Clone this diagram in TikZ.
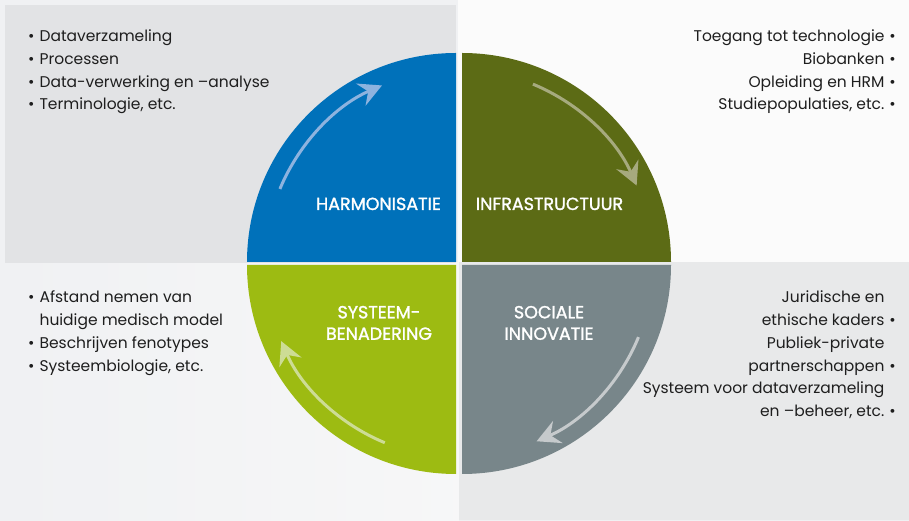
\documentclass[tikz,border=0pt]{standalone}
\usepackage{fontspec}
\setmainfont{Poppins}
\newfontfamily\labelfont[FakeBold=1.5]{Poppins}
\usetikzlibrary{arrows.meta}

\definecolor{pagebg}{HTML}{F0F1F3}
\definecolor{panelA}{HTML}{E2E3E5}
\definecolor{panelB}{HTML}{FBFBFB}
\definecolor{panelD}{HTML}{E8E9EA}
\definecolor{harmblue}{HTML}{0071BA}
\definecolor{infraolive}{HTML}{5C6B15}
\definecolor{systgreen}{HTML}{9DBB12}
\definecolor{socgray}{HTML}{78868A}
\definecolor{arrblue}{HTML}{8DB3DF}
\definecolor{arrolive}{HTML}{A6AA7E}
\definecolor{arrgreen}{HTML}{CDDC95}
\definecolor{arrgray}{HTML}{C6CACC}
\definecolor{bodytext}{HTML}{1E1E1E}

\begin{document}
\begin{tikzpicture}[x=1pt,y=1pt,
  listtext/.style={inner sep=0pt, text=bodytext,
    font=\fontsize{15.5pt}{22.8pt}\selectfont},
  quadlabel/.style={inner sep=0pt, text=white,
    font=\labelfont\fontsize{17.5pt}{21.5pt}\selectfont},
  cyclearrow/.style={line width=3pt,
    -{Stealth[length=23pt,width=24pt,inset=8pt]}}
]
\useasboundingbox (0,0) rectangle (909,521);

% background panels
\fill[pagebg] (0,0) rectangle (909,521);
\shade[left color=pagebg, right color=panelB!60!pagebg] (5,0) rectangle (459,258);
\fill[panelA] (5,258) rectangle (456,516);
\fill[panelB] (458,259) rectangle (909,521);
\fill[panelD] (459,1) rectangle (909,259);

% four quarter discs
\fill[harmblue]   (456,259) -- (247,259) arc[start angle=180,end angle=90,radius=209pt] -- cycle;
\fill[infraolive] (462,259) -- (462,468) arc[start angle=90,end angle=0,radius=209pt] -- cycle;
\fill[socgray]    (462,256) -- (671,256) arc[start angle=0,end angle=-90,radius=209pt] -- cycle;
\fill[systgreen]  (456,256) -- (456,47) arc[start angle=-90,end angle=-180,radius=209pt] -- cycle;

% cycle arrows
\coordinate (c) at (459,257.5);
\draw[cyclearrow, arrblue]  ([shift={(157.4:194pt)}]c) arc[start angle=157.4,end angle=113.4,radius=194pt];
\draw[cyclearrow, arrolive] ([shift={(67.6:194pt)}]c)  arc[start angle=67.6,end angle=23.7,radius=194pt];
\draw[cyclearrow, arrgray]  ([shift={(-22.3:194pt)}]c) arc[start angle=-22.3,end angle=-66.4,radius=194pt];
\draw[cyclearrow, arrgreen] ([shift={(-112.5:194pt)}]c) arc[start angle=-112.5,end angle=-156.4,radius=194pt];

% quadrant labels
\node[quadlabel, anchor=base] (harm) at (378.5,311) {HARMONISATIE};
\node[quadlabel, anchor=base] (infra) at (549.5,311) {INFRASTRUCTUUR};
\node[quadlabel, anchor=base] (syst) at (379,202.7)
  {\begin{tabular}[t]{@{}c@{}}SYSTEEM-\\BENADERING\end{tabular}};
\node[quadlabel, anchor=base] (soc) at (549,202.7)
  {\begin{tabular}[t]{@{}c@{}}SOCIALE\\INNOVATIE\end{tabular}};

% lists
\node[listtext, anchor=base west] (harmlist) at (28,479.5)
  {\begin{tabular}[t]{@{}l@{\hspace{5pt}}l@{}}
   • & Dataverzameling\\
   • & Processen\\
   • & Data-verwerking en –analyse\\
   • & Terminologie, etc.
   \end{tabular}};
\node[listtext, anchor=base east] (infralist) at (896,479.5)
  {\begin{tabular}[t]{@{}r@{\hspace{5pt}}l@{}}
   Toegang tot technologie & •\\
   Biobanken & •\\
   Opleiding en HRM & •\\
   Studiepopulaties, etc. & •
   \end{tabular}};
\node[listtext, anchor=base west] (systlist) at (28,218.3)
  {\begin{tabular}[t]{@{}l@{\hspace{5pt}}l@{}}
   • & Afstand nemen van\\
     & huidige medisch model\\
   • & Beschrijven fenotypes\\
   • & Systeembiologie, etc.
   \end{tabular}};
\node[listtext, anchor=base east] (soclist) at (896,218.3)
  {\begin{tabular}[t]{@{}r@{\hspace{5pt}}l@{}}
   Juridische en & \phantom{•}\\
   ethische kaders & •\\
   Publiek-private & \phantom{•}\\
   partnerschappen & •\\
   Systeem voor dataverzameling & \phantom{•}\\
   en –beheer, etc. & •
   \end{tabular}};
\end{tikzpicture}
\end{document}
